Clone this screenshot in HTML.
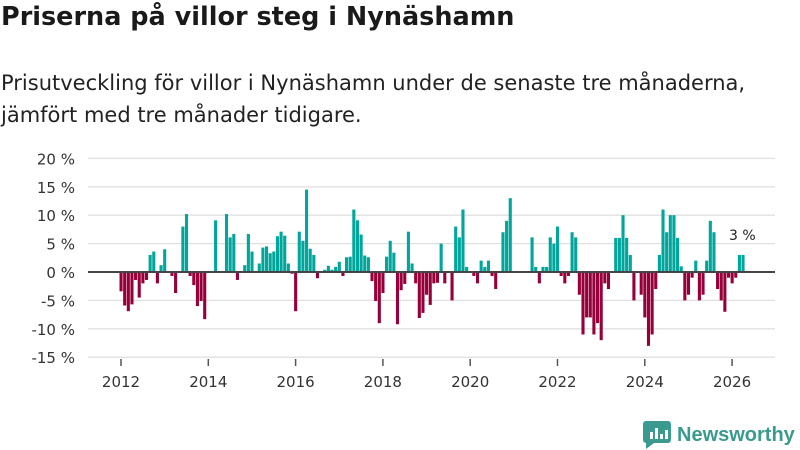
<!DOCTYPE html>
<html><head><meta charset="utf-8"><style>
body{margin:0;background:#fff;font-family:"DejaVu Sans",sans-serif;}
#wrap{position:relative;width:800px;height:450px;overflow:hidden;}
h1{position:absolute;left:1px;top:2px;margin:0;font-size:25.5px;font-weight:bold;color:#1a1a1a;}
p{position:absolute;left:1px;top:67px;margin:0;font-size:21px;line-height:32px;color:#222;}
</style></head><body>
<div id="wrap">
<h1>Priserna på villor steg i Nynäshamn</h1>
<p>Prisutveckling för villor i Nynäshamn under de senaste tre månaderna,<br>jämfört med tre månader tidigare.</p>
<svg id="chart" width="800" height="450" style="position:absolute;left:0;top:0"></svg>
</div>
<script>
const values=[-3.4,-5.9,-6.9,-5.7,-1.4,-4.5,-2,-1.4,3,3.6,-2,1.2,4,0,-0.7,-3.7,0,8,10.2,-0.7,-2.3,-6,-5.1,-8.3,0,0,9.1,0,0,10.2,6.1,6.7,-1.4,0,1.2,6.7,3.6,0,1.5,4.3,4.5,3.3,3.6,6.3,
7.1,6.4,1.5,-0.3,-6.9,7.1,5.5,14.5,4.1,3,-1.1,0,0.4,1.1,0.4,0.9,1.8,-0.7,2.6,2.7,11,9.1,6.6,2.9,2.6,-1.6,-5.1,-9,-3.7,2.7,5.5,3.4,-9.2,-3.2,-2.1,7.1,1.5,-2,-8.1,-7.2,-4,-5.8,-2,-1.9,
5,-2,0,-5,8,6.1,11,0.9,0,-0.7,-2,2,0.9,2,-0.7,-3,0,7,9,13,0,0,0,0,0,6.1,0.9,-2,0.9,0.9,6.1,5,8,-0.7,-2,-0.7,7,6.1,-4,-11,-8,-8,-11,
-9,-12,-2,-3,0,6,6,10,6,3,-5,0,-4,-8,-13,-11,-3,3,11,7,10,10,6,1,-5,-4,-1,2,-5,-4,2,9,7,-3,-5,-7,-1,-2,-1,3,3];
const yTicks=[20,15,10,5,0,-5,-10,-15];
const xTicks=[2012,2014,2016,2018,2020,2022,2024,2026];
const startYear=2012;
const lastLabel="3 %";
const NS="http://www.w3.org/2000/svg";
const FONT='DejaVu Sans,sans-serif';
const svg=document.getElementById('chart');
const y=v=>272-v*5.68;
const step=(743-121)/(values.length-1);
const xi=i=>121+i*step;
const xy=yr=>121+(yr-startYear)*12*step;
function mk(t,a){const e=document.createElementNS(NS,t);for(const k in a)e.setAttribute(k,a[k]);svg.appendChild(e);return e;}
yTicks.forEach(t=>{
 const g=mk('line',{x1:88,x2:775,y1:y(t),y2:y(t),stroke:t===0?'#444':'#e0e0e0','stroke-width':t===0?2:1.3});
 
 
 const l=mk('text',{x:75,y:y(t)+6,'text-anchor':'end','font-size':15,fill:'#333','font-family':FONT});
 l.textContent=t+' %';
 
 
});
values.forEach((v,i)=>{
 if(v===0)return;
 const r=mk('rect',{x:xi(i)-1.5,width:3.1,y:v>0?y(v):y(0),height:Math.abs(y(v)-y(0)),fill:v>0?'#00a59b':'#96003a'});
 
 
});
const z=mk('line',{x1:88,x2:775,y1:y(0),y2:y(0),stroke:'#444','stroke-width':2});


xTicks.forEach(t=>{
 const tk=mk('line',{x1:xy(t),x2:xy(t),y1:359,y2:366,stroke:'#555','stroke-width':1.5});
 
 
 const l=mk('text',{x:xy(t),y:387,'text-anchor':'middle','font-size':15,fill:'#333','font-family':FONT});
 l.textContent=t;
 
 
});
const ll=mk('text',{x:xi(values.length-1)-14,y:240,'font-size':14,fill:'#222','font-family':FONT});
ll.textContent=lastLabel;


const lg=mk('g',{});


const b=document.createElementNS(NS,'path');
b.setAttribute('d','M646 421 h22 a3 3 0 0 1 3 3 v16 a3 3 0 0 1 -3 3 h-14 l-8 6 v-6 a3 3 0 0 1 -3 -3 v-16 a3 3 0 0 1 3 -3z');
b.setAttribute('fill','#3a9a8e');
lg.appendChild(b);
[[650,432,3,7],[655,428,3,11],[660,434,3,5],[665,430,3,9]].forEach(a=>{const r=document.createElementNS(NS,'rect');r.setAttribute('x',a[0]);r.setAttribute('y',a[1]);r.setAttribute('width',a[2]);r.setAttribute('height',a[3]);r.setAttribute('fill','#fff');lg.appendChild(r);});
const lt=document.createElementNS(NS,'text');
lt.setAttribute('x',677);lt.setAttribute('y',441);lt.setAttribute('font-size',20);lt.setAttribute('font-weight','bold');lt.setAttribute('fill','#3a9a8e');lt.setAttribute('font-family','Liberation Sans,sans-serif');
lt.textContent='Newsworthy';
lg.appendChild(lt);
</script>
</body></html>
